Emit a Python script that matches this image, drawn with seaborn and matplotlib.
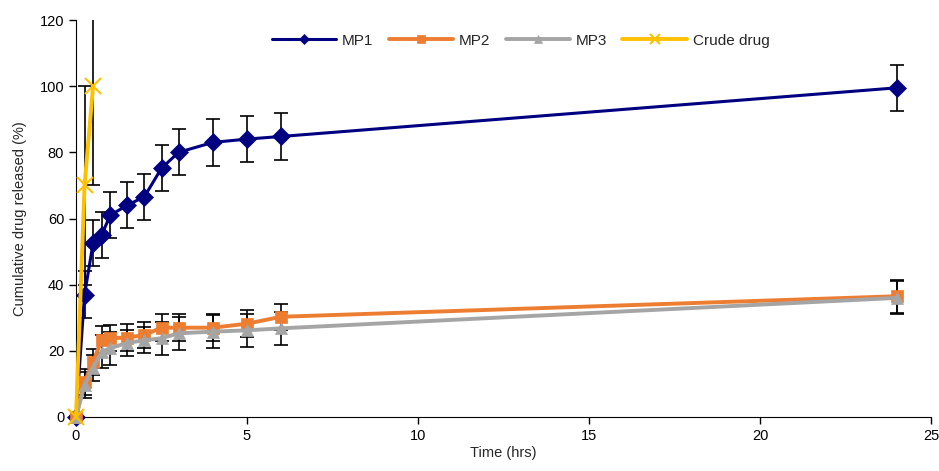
import numpy as np
import pandas as pd
import seaborn as sns
import matplotlib.pyplot as plt

# data
time_mp = [0, 0.25, 0.5, 0.75, 1, 1.5, 2, 2.5, 3, 4, 5, 6, 24]
mp1 = [0, 37, 52.6, 55, 61, 64, 66.6, 75.2, 80, 83, 84, 84.8, 99.5]
mp1_err = [0, 7, 7, 7, 7, 7, 7, 7, 7, 7, 7, 7, 7]
mp2 = [0, 10.6, 16.6, 23.4, 23.8, 24, 24.8, 27, 27, 27, 28.2, 30.3, 36.5]
mp2_err = [0, 4, 4, 4, 4, 4, 4, 4, 4, 4, 4, 4, 5]
mp3 = [0, 9.7, 14.8, 19.7, 20.8, 22.4, 23.2, 23.8, 25.3, 25.8, 26.2, 26.8, 36]
mp3_err = [0, 4, 4, 5, 5, 4, 4, 5, 5, 5, 5, 5, 5]
time_crude = [0, 0.25, 0.5]
crude = [0, 70, 100]
crude_err = [0, 30, 30]

series = ["MP1", "MP2", "MP3", "Crude drug"]
colors = {"MP1": "#000080", "MP2": "#ED7D31", "MP3": "#A5A5A5", "Crude drug": "#FFC000"}
markers = {"MP1": "D", "MP2": "s", "MP3": "^", "Crude drug": "x"}

frames = []
for name, t, v, e in [("MP1", time_mp, mp1, mp1_err), ("MP2", time_mp, mp2, mp2_err),
                      ("MP3", time_mp, mp3, mp3_err), ("Crude drug", time_crude, crude, crude_err)]:
    frames.append(pd.DataFrame({"time": t, "value": v, "err": e, "series": name}))
df = pd.concat(frames, ignore_index=True)

sns.set_style("ticks")
plt.rcParams["font.family"] = ["Liberation Sans", "DejaVu Sans"]

fig = plt.figure(figsize=(9.39, 4.71), dpi=100)
ax = fig.add_axes([76 / 939, 54 / 471, 855 / 939, 397 / 471])

# error bars first so markers sit on top
for name in series:
    d = df[df["series"] == name]
    ax.errorbar(d["time"], d["value"], yerr=d["err"], fmt="none", ecolor="black",
                elinewidth=1.2, capsize=5, capthick=1.2, zorder=1)

sizes = {"MP1": 9, "MP2": 9, "MP3": 9, "Crude drug": 11}
widths = {"MP1": 2.2, "MP2": 2.8, "MP3": 2.8, "Crude drug": 2.8}
for name in series:
    d = df[df["series"] == name]
    sns.lineplot(data=d, x="time", y="value", ax=ax, color=colors[name], label=name,
                 marker=markers[name], markersize=sizes[name], linewidth=widths[name],
                 markeredgecolor=colors[name], markeredgewidth=1.5 if name == "Crude drug" else 0.5,
                 zorder=3, errorbar=None, clip_on=False)

ax.set_xlim(0, 25)
ax.set_ylim(0, 120)
ax.set_xticks(np.arange(0, 26, 5))
ax.set_yticks(np.arange(0, 121, 20))
ax.tick_params(labelsize=10.5, length=5, width=1, colors="black")
ax.set_xlabel("Time (hrs)", fontsize=10.5, labelpad=2)
ax.set_ylabel("Cumulative drug released (%)", fontsize=10.5, labelpad=9)
for s in ["top", "right"]:
    ax.spines[s].set_visible(False)
for s in ["left", "bottom"]:
    ax.spines[s].set_color("black")

leg = ax.legend(loc="upper center", bbox_to_anchor=(0.52, 1.0), ncol=4, frameon=False,
                fontsize=11, handlelength=4.2, columnspacing=1.0, handletextpad=0.4,
                markerscale=0.6)

fig.savefig("out.png", dpi=100)
